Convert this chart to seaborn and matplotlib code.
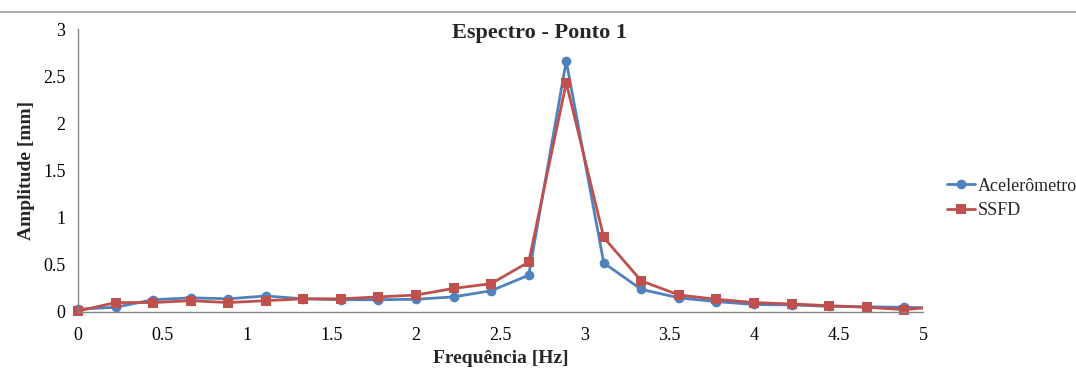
import matplotlib
matplotlib.use("Agg")
import matplotlib.pyplot as plt
from matplotlib.lines import Line2D
from matplotlib.patches import Rectangle
import seaborn as sns
import pandas as pd

# Dados
freq = [0.0, 0.222, 0.444, 0.667, 0.889, 1.111, 1.333, 1.556, 1.778, 2.0,
        2.222, 2.444, 2.667, 2.889, 3.111, 3.333, 3.556, 3.778, 4.0, 4.222,
        4.444, 4.667, 4.889, 5.111]
acelerometro = [0.03, 0.05, 0.13, 0.15, 0.14, 0.17, 0.14, 0.13, 0.13, 0.135,
                0.16, 0.225, 0.39, 2.66, 0.52, 0.24, 0.15, 0.11, 0.08, 0.075,
                0.06, 0.055, 0.05, 0.04]
ssfd = [0.01, 0.10, 0.10, 0.12, 0.10, 0.12, 0.14, 0.14, 0.16, 0.18,
        0.25, 0.30, 0.53, 2.43, 0.79, 0.33, 0.18, 0.135, 0.10, 0.085,
        0.067, 0.05, 0.025, 0.06]
x_ticks = [0, 0.5, 1, 1.5, 2, 2.5, 3, 3.5, 4, 4.5, 5]
y_ticks = [0, 0.5, 1, 1.5, 2, 2.5, 3]

df = pd.DataFrame({
    'freq': freq * 2,
    'amp': acelerometro + ssfd,
    'serie': ['Acelerômetro'] * len(freq) + ['SSFD'] * len(freq),
})

sns.set_style("white")
plt.rcParams['font.family'] = ['Liberation Serif', 'DejaVu Serif']

cores = {'Acelerômetro': '#4F81BD', 'SSFD': '#C0504D'}
marcadores = {'Acelerômetro': 'o', 'SSFD': 's'}

fig = plt.figure(figsize=(10.76, 3.74), dpi=100)
ax = fig.add_axes([78 / 1076, 1 - 312 / 374, 845 / 1076, 283 / 374])

sns.lineplot(data=df, x='freq', y='amp', hue='serie', style='serie',
             palette=cores, markers=marcadores, dashes=False,
             linewidth=2, markersize=7, markeredgewidth=0, legend=False, ax=ax)

clip = Rectangle((-0.2, -0.2), 5.2, 3.6, transform=ax.transData)
for ln in ax.lines:
    ln.set_clip_path(clip)

ax.set_xlim(0, 5)
ax.set_ylim(0, 3)
ax.set_xticks(x_ticks)
ax.set_xticklabels([f'{t:g}' for t in x_ticks])
ax.set_yticks(y_ticks)
ax.set_yticklabels([f'{t:g}' for t in y_ticks])
ax.tick_params(axis='both', direction='out', length=5, width=1, color='#868686',
               labelsize=13, labelcolor='black')
ax.tick_params(axis='x', pad=6)
ax.tick_params(axis='y', pad=4)

for s in ['top', 'right']:
    ax.spines[s].set_visible(False)
for s in ['left', 'bottom']:
    ax.spines[s].set_color('#868686')
    ax.spines[s].set_linewidth(1)

ax.set_xlabel('Frequência [Hz]', fontsize=14, fontweight='bold', labelpad=4)
ax.set_ylabel('Amplitude [mm]', fontsize=14, fontweight='bold', labelpad=6)
fig.text(540 / 1076, 1 - 33 / 374, 'Espectro - Ponto 1', fontsize=16,
         fontweight='bold', ha='center', va='center')

handles = [Line2D([], [], color=cores[k], marker=marcadores[k], markersize=7,
                  markeredgewidth=0, linewidth=2) for k in cores]
fig.legend(handles, list(cores.keys()), loc='center left',
           bbox_to_anchor=(0.868, 0.47), frameon=False, fontsize=13,
           handlelength=1.6, handletextpad=0.15, labelspacing=0.4,
           borderpad=0.2)

fig.add_artist(Line2D([0, 1], [1 - 12 / 374, 1 - 12 / 374], color='#A0A0A0',
                      linewidth=1.2, transform=fig.transFigure))

fig.savefig('out.png', dpi=100)
